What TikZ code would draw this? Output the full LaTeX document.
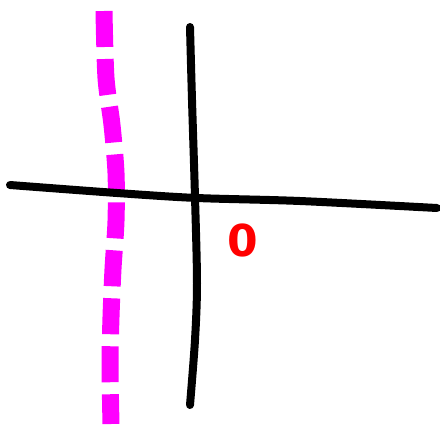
\documentclass[tikz,border=0pt]{standalone}
\usepackage{fontspec}
\newfontfamily\sketchfont{DejaVu Sans}
\usepackage{xcolor}
\definecolor{sketchmagenta}{RGB}{255,0,255}
\definecolor{sketchred}{RGB}{255,0,0}

\begin{document}
\begin{tikzpicture}[x=1pt, y=-1pt,
    axis/.style={line width=8pt, black, line cap=round, line join=round},
    guide/.style={line width=17pt, sketchmagenta, dash pattern=on 36pt off 12pt},
    origin/.style={sketchred, font=\sketchfont\bfseries\fontsize{44}{44}\selectfont, inner sep=0pt}
]
    \useasboundingbox (0,0) rectangle (440,424);
    % dashed guide line
    \draw[guide] plot[smooth] coordinates {(104,11) (106,78) (112,125) (116,173) (116,221) (113,269) (111,317) (110,365) (111,424)};
    % axes
    \draw[axis] plot[smooth] coordinates {(190,27) (192,100) (195,197) (197,283) (195,340) (190,405)};
    \draw[axis] plot[smooth] coordinates {(10,185) (117,193) (197,198) (300,201) (437,208)};
    \node[origin] (o) at (243,240) {0};
\end{tikzpicture}
\end{document}
